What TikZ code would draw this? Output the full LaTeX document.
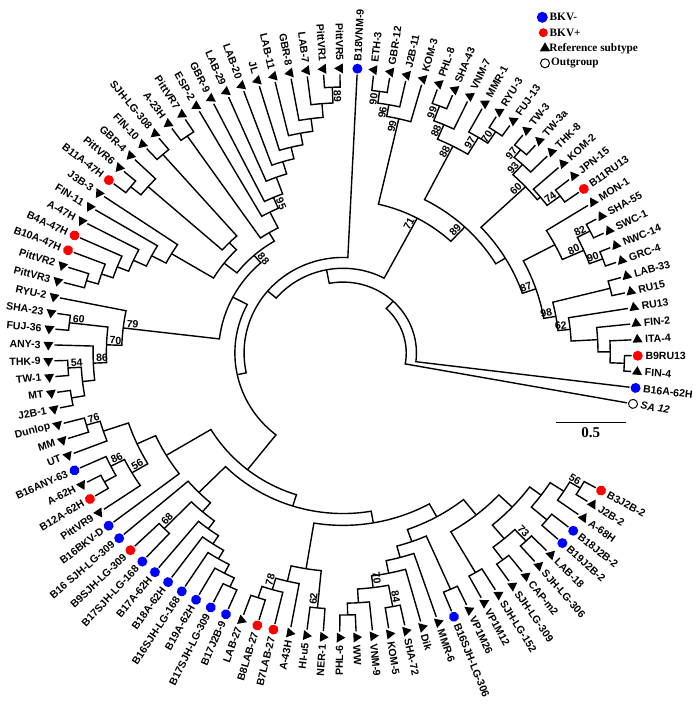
\documentclass[tikz,border=0pt]{standalone}
\usepackage{fontspec}
\setmainfont{Liberation Sans}
\newfontfamily\legfont{Liberation Serif}
\usepackage{tikz}
\usetikzlibrary{shapes.geometric,positioning}

\def\tex{1.02}\def\tey{0.985}
% side of the circle: rotation and anchors for labels
\newcommand{\tside}[1]{%
  \pgfmathsetmacro\tnorm{Mod(#1,360)}%
  \let\trot\tnorm\def\tanc{west}\def\tbanc{south east}%
  \ifdim\tnorm pt>90pt\relax\ifdim\tnorm pt<270pt\relax
    \pgfmathsetmacro\trot{\tnorm-180}\def\tanc{east}\def\tbanc{south west}%
  \fi\fi}
% leaf: name, index, label, marker
\newcommand{\tleaf}[4]{%
  \pgfmathsetmacro\tla{87.2-3.25*(#2-1)-((#2>31)?15.35:360)}%
  \expandafter\xdef\csname ta@#1\endcsname{\tla}%
  \expandafter\xdef\csname tr@#1\endcsname{283}%
  \coordinate (#1) at (\tla:\tex*283pt and \tey*283pt);
  \tside{\tla}%
  \node[#4,rotate=\tla] (#1m) at (\tla:\tex*289pt and \tey*289pt) {};
  \node[lbl,rotate=\trot,anchor=\tanc] (#1t) at (\tla:\tex*296pt and \tey*296pt) {#3};}
% inner node: name, child, child, radius
\newcommand{\tjoin}[4]{%
  \pgfmathsetmacro\tja{\csname ta@#2\endcsname}%
  \pgfmathsetmacro\tjb{\csname ta@#3\endcsname}%
  \pgfmathsetmacro\tjm{(\tja+\tjb)/2}%
  \pgfmathsetmacro\tjx{\tex*#4}\pgfmathsetmacro\tjy{\tey*#4}%
  \expandafter\xdef\csname ta@#1\endcsname{\tjm}%
  \expandafter\xdef\csname tr@#1\endcsname{#4}%
  \coordinate (#1) at (\tjm:\tjx pt and \tjy pt);
  \draw[branch] (#2) -- (\tja:\tjx pt and \tjy pt)
    arc[start angle=\tja,end angle=\tjb,x radius=\tjx pt,y radius=\tjy pt] -- (#3);}
% bootstrap value at a node
\newcommand{\tboot}[2]{%
  \pgfmathsetmacro\tba{\csname ta@#1\endcsname}%
  \pgfmathsetmacro\tbx{\tex*(\csname tr@#1\endcsname-2)}%
  \pgfmathsetmacro\tby{\tey*(\csname tr@#1\endcsname-2)}%
  \tside{\tba}%
  \node[boot,rotate=\trot,anchor=\tbanc] (#1bs) at (\tba:\tbx pt and \tby pt) {#2};}

\tikzset{
  branch/.style={line width=1.4pt},
  lbl/.style={font=\fontsize{10.5}{12}\selectfont\bfseries,inner sep=0.5pt},
  boot/.style={font=\fontsize{10.5}{12}\selectfont\bfseries,inner sep=0.8pt},
  mtri/.style={regular polygon,regular polygon sides=3,fill=black,inner sep=0pt,minimum size=11.5pt},
  mneg/.style={circle,fill=blue,inner sep=0pt,minimum size=10pt},
  mpos/.style={circle,fill=red,inner sep=0pt,minimum size=10pt},
  mout/.style={circle,draw=black,fill=white,line width=1pt,inner sep=0pt,minimum size=9pt},
  legtxt/.style={font=\legfont\bfseries\fontsize{11.3}{13}\selectfont,inner sep=0pt}}

\begin{document}
\begin{tikzpicture}[x=1pt,y=1pt]
\useasboundingbox (0,0) rectangle (697,705);
\begin{scope}[shift={(343,352)}]
\tleaf{B18VNM9}{1}{B18VNM-9}{mneg}
\tleaf{ETH3}{2}{ETH-3}{mtri}
\tleaf{GBR12}{3}{GBR-12}{mtri}
\tleaf{J2B11}{4}{J2B-11}{mtri}
\tleaf{KOM3}{5}{KOM-3}{mtri}
\tleaf{PHL8}{6}{PHL-8}{mtri}
\tleaf{SHA43}{7}{SHA-43}{mtri}
\tleaf{VNM7}{8}{VNM-7}{mtri}
\tleaf{MMR1}{9}{MMR-1}{mtri}
\tleaf{RYU3}{10}{RYU-3}{mtri}
\tleaf{FUJ13}{11}{FUJ-13}{mtri}
\tleaf{TW3}{12}{TW-3}{mtri}
\tleaf{TW3a}{13}{TW-3a}{mtri}
\tleaf{THK8}{14}{THK-8}{mtri}
\tleaf{KOM2}{15}{KOM-2}{mtri}
\tleaf{JPN15}{16}{JPN-15}{mtri}
\tleaf{B11RU13}{17}{B11RU13}{mpos}
\tleaf{MON1}{18}{MON-1}{mtri}
\tleaf{SHA55}{19}{SHA-55}{mtri}
\tleaf{SWC1}{20}{SWC-1}{mtri}
\tleaf{NWC14}{21}{NWC-14}{mtri}
\tleaf{GRC4}{22}{GRC-4}{mtri}
\tleaf{LAB33}{23}{LAB-33}{mtri}
\tleaf{RU15}{24}{RU15}{mtri}
\tleaf{RU13}{25}{RU13}{mtri}
\tleaf{FIN2}{26}{FIN-2}{mtri}
\tleaf{ITA4}{27}{ITA-4}{mtri}
\tleaf{B9RU13}{28}{B9RU13}{mpos}
\tleaf{FIN4}{29}{FIN-4}{mtri}
\tleaf{B16A62H}{30}{B16A-62H}{mneg}
\tleaf{SA12}{31}{\itshape SA 12}{mout}
\tleaf{B3J2B2}{32}{B3J2B-2}{mpos}
\tleaf{J2B2}{33}{J2B-2}{mtri}
\tleaf{A68H}{34}{A-68H}{mtri}
\tleaf{B18J2B2}{35}{B18J2B-2}{mneg}
\tleaf{B19J2B2}{36}{B19J2B-2}{mneg}
\tleaf{LAB18}{37}{LAB-18}{mtri}
\tleaf{SJHLG306}{38}{SJH-LG-306}{mtri}
\tleaf{CAPm2}{39}{CAP-m2}{mtri}
\tleaf{SJHLG309}{40}{SJH-LG-309}{mtri}
\tleaf{SJHLG152}{41}{SJH-LG-152}{mtri}
\tleaf{VP1M12}{42}{VP1M12}{mtri}
\tleaf{VP1M26}{43}{VP1M26}{mtri}
\tleaf{B16SJHLG306}{44}{B16SJH-LG-306}{mneg}
\tleaf{MMR6}{45}{MMR-6}{mtri}
\tleaf{Dik}{46}{Dik}{mtri}
\tleaf{SHA72}{47}{SHA-72}{mtri}
\tleaf{KOM5}{48}{KOM-5}{mtri}
\tleaf{VNM9}{49}{VNM-9}{mtri}
\tleaf{WW}{50}{WW}{mtri}
\tleaf{PHL6}{51}{PHL-6}{mtri}
\tleaf{NER1}{52}{NER-1}{mtri}
\tleaf{HIu5}{53}{HI-u5}{mtri}
\tleaf{A43H}{54}{A-43H}{mtri}
\tleaf{B7LAB27}{55}{B7LAB-27}{mpos}
\tleaf{B8LAB27}{56}{B8LAB-27}{mpos}
\tleaf{LAB27}{57}{LAB-27}{mtri}
\tleaf{B17J2B9}{58}{B17J2B-9}{mneg}
\tleaf{B17SJHLG309}{59}{B17SJH-LG-309}{mneg}
\tleaf{B19A62H}{60}{B19A-62H}{mneg}
\tleaf{B16SJHLG168}{61}{B16SJH-LG-168}{mneg}
\tleaf{B18A62H}{62}{B18A-62H}{mneg}
\tleaf{B17A62H}{63}{B17A-62H}{mneg}
\tleaf{B17SJHLG168}{64}{B17SJH-LG-168}{mneg}
\tleaf{B9SJHLG309}{65}{B9SJH-LG-309}{mpos}
\tleaf{B16sSJHLG309}{66}{B16 SJH-LG-309}{mneg}
\tleaf{B16BKVD}{67}{B16BKV-D}{mneg}
\tleaf{PittVR9}{68}{PittVR9}{mtri}
\tleaf{B12A62H}{69}{B12A-62H}{mpos}
\tleaf{A62H}{70}{A-62H}{mtri}
\tleaf{B16ANY63}{71}{B16ANY-63}{mneg}
\tleaf{UT}{72}{UT}{mtri}
\tleaf{MM}{73}{MM}{mtri}
\tleaf{Dunlop}{74}{Dunlop}{mtri}
\tleaf{J2B1}{75}{J2B-1}{mtri}
\tleaf{MT}{76}{MT}{mtri}
\tleaf{TW1}{77}{TW-1}{mtri}
\tleaf{THK9}{78}{THK-9}{mtri}
\tleaf{ANY3}{79}{ANY-3}{mtri}
\tleaf{FUJ36}{80}{FUJ-36}{mtri}
\tleaf{SHA23}{81}{SHA-23}{mtri}
\tleaf{RYU2}{82}{RYU-2}{mtri}
\tleaf{PittVR3}{83}{PittVR3}{mtri}
\tleaf{PittVR2}{84}{PittVR2}{mtri}
\tleaf{B10A47H}{85}{B10A-47H}{mpos}
\tleaf{B4A47H}{86}{B4A-47H}{mpos}
\tleaf{A47H}{87}{A-47H}{mtri}
\tleaf{FIN11}{88}{FIN-11}{mtri}
\tleaf{J3B3}{89}{J3B-3}{mtri}
\tleaf{B11A47H}{90}{B11A-47H}{mpos}
\tleaf{PittVR6}{91}{PittVR6}{mtri}
\tleaf{GBR4}{92}{GBR-4}{mtri}
\tleaf{FIN10}{93}{FIN-10}{mtri}
\tleaf{SJHLG308}{94}{SJH-LG-308}{mtri}
\tleaf{A23H}{95}{A-23H}{mtri}
\tleaf{PittVR7}{96}{PittVR7}{mtri}
\tleaf{ESP2}{97}{ESP-2}{mtri}
\tleaf{GBR9}{98}{GBR-9}{mtri}
\tleaf{LAB29}{99}{LAB-29}{mtri}
\tleaf{LAB20}{100}{LAB-20}{mtri}
\tleaf{JL}{101}{JL}{mtri}
\tleaf{LAB11}{102}{LAB-11}{mtri}
\tleaf{GBR8}{103}{GBR-8}{mtri}
\tleaf{LAB7}{104}{LAB-7}{mtri}
\tleaf{PittVR1}{105}{PittVR1}{mtri}
\tleaf{PittVR5}{106}{PittVR5}{mtri}
% upper right clade
\tjoin{n90}{ETH3}{GBR12}{268}
\tjoin{n96}{n90}{J2B11}{256}
\tjoin{n99a}{n96}{KOM3}{244}
\tjoin{n99b}{PHL8}{SHA43}{268}
\tjoin{n88b}{n99b}{VNM7}{252}
\tjoin{n70a}{RYU3}{FUJ13}{270}
\tjoin{n97a}{MMR1}{n70a}{256}
\tjoin{nGa}{n88b}{n97a}{236}
\tjoin{n97b}{TW3}{TW3a}{270}
\tjoin{n93}{n97b}{THK8}{260}
\tjoin{n74}{JPN15}{B11RU13}{266}
\tjoin{nKJ}{KOM2}{n74}{250}
\tjoin{nZ}{n93}{nKJ}{246}
\tjoin{n82}{SHA55}{SWC1}{272}
\tjoin{n90b}{NWC14}{GRC4}{272}
\tjoin{n80}{n82}{n90b}{258}
\tjoin{nMo}{MON1}{n80}{235}
\tjoin{n3}{B9RU13}{FIN4}{276}
\tjoin{n2}{ITA4}{n3}{262}
\tjoin{n1}{FIN2}{n2}{250}
\tjoin{n62}{RU13}{n1}{224}
\tjoin{nLR}{LAB33}{RU15}{270}
\tjoin{n98}{nLR}{n62}{212}
\tjoin{n87}{nMo}{n98}{200}
\tjoin{nY}{nZ}{n87}{186}
\tjoin{n89a}{nGa}{nY}{175}
\tjoin{n71}{n99a}{n89a}{155}
% left clade
\tjoin{n60}{SHA23}{FUJ36}{270}
\tjoin{n54}{THK9}{TW1}{270}
\tjoin{nMJ}{MT}{J2B1}{270}
\tjoin{n5M}{n54}{nMJ}{257}
\tjoin{n86a}{ANY3}{n5M}{245}
\tjoin{n70b}{n60}{n86a}{232}
\tjoin{n79}{RYU2}{n70b}{217}
% upper left clade
\tjoin{n89}{PittVR5}{PittVR1}{270}
\tjoin{l7}{n89}{LAB7}{254}
\tjoin{l8}{l7}{GBR8}{240}
\tjoin{l11}{l8}{LAB11}{227}
\tjoin{lJL}{l11}{JL}{215}
\tjoin{l20}{lJL}{LAB20}{203}
\tjoin{l29}{l20}{LAB29}{190}
\tjoin{n95}{l29}{GBR9}{172}
\tjoin{nE}{n95}{ESP2}{160}
\tjoin{nAP}{A23H}{PittVR7}{268}
\tjoin{nR}{nE}{nAP}{142}
\tjoin{nSF}{SJHLG308}{FIN10}{268}
\tjoin{nPB}{PittVR6}{B11A47H}{268}
\tjoin{nG4}{GBR4}{nPB}{255}
\tjoin{nL2}{nSF}{nG4}{158}
\tjoin{nPV}{PittVR2}{PittVR3}{262}
\tjoin{k1}{B10A47H}{nPV}{250}
\tjoin{k2}{B4A47H}{k1}{238}
\tjoin{k3}{A47H}{k2}{226}
\tjoin{k4}{FIN11}{k3}{212}
\tjoin{nL1}{J3B3}{k4}{196}
\tjoin{nL}{nL2}{nL1}{148}
\tjoin{n88}{nR}{nL}{132}
% lower clades
\tjoin{n76}{MM}{Dunlop}{262}
\tjoin{nUT}{UT}{n76}{248}
\tjoin{nAB}{A62H}{B12A62H}{268}
\tjoin{n86b}{B16ANY63}{nAB}{255}
\tjoin{n56a}{n86b}{PittVR9}{240}
\tjoin{nB1x}{nUT}{n56a}{222}
\tjoin{nB1}{B16BKVD}{nB1x}{202}
\tjoin{q1}{B17J2B9}{B17SJHLG309}{262}
\tjoin{q2}{q1}{B19A62H}{252}
\tjoin{q3}{q2}{B16SJHLG168}{242}
\tjoin{q4}{q3}{B18A62H}{232}
\tjoin{q5}{q4}{B17A62H}{222}
\tjoin{n68}{B17SJHLG168}{B9SJHLG309}{250}
\tjoin{q6}{q5}{n68}{212}
\tjoin{nB21}{B16sSJHLG309}{q6}{200}
\tjoin{m1}{LAB27}{B8LAB27}{262}
\tjoin{n78}{m1}{B7LAB27}{250}
\tjoin{m2}{n78}{A43H}{238}
\tjoin{n62b}{HIu5}{NER1}{260}
\tjoin{nB221}{m2}{n62b}{222}
\tjoin{w1}{PHL6}{WW}{266}
\tjoin{w2}{w1}{VNM9}{254}
\tjoin{n84}{KOM5}{SHA72}{262}
\tjoin{n70c}{w2}{n84}{240}
\tjoin{w3}{n70c}{Dik}{228}
\tjoin{w4}{w3}{MMR6}{215}
\tjoin{w5}{B16SJHLG306}{VP1M26}{262}
\tjoin{nWa}{w4}{w5}{203}
\tjoin{n56b}{B3J2B2}{J2B2}{270}
\tjoin{e1}{n56b}{A68H}{258}
\tjoin{e2}{B18J2B2}{B19J2B2}{262}
\tjoin{nX1}{e1}{e2}{242}
\tjoin{n73}{LAB18}{SJHLG306}{262}
\tjoin{e3}{CAPm2}{SJHLG309}{262}
\tjoin{nX2}{n73}{e3}{246}
\tjoin{nX12}{nX1}{nX2}{228}
\tjoin{nX3}{SJHLG152}{VP1M12}{258}
\tjoin{nWb}{nX12}{nX3}{210}
\tjoin{nB222}{nWa}{nWb}{190}
\tjoin{nB22}{nB221}{nB222}{175}
\tjoin{nB2}{nB21}{nB22}{163}
\tjoin{nB}{nB1}{nB2}{151}
% backbone
\tjoin{nP}{n88}{n79}{122}
\tjoin{nS}{nP}{nB}{106}
\tjoin{nN4}{B18VNM9}{nS}{97}
\tjoin{nN3}{n71}{nN4}{86}
\tjoin{nN2}{nN3}{B16A62H}{72}
\tjoin{root}{nN2}{SA12}{62}
% bootstrap values
\tboot{n89}{89}\tboot{n95}{95}\tboot{n88}{88}
\tboot{n90}{90}\tboot{n96}{96}\tboot{n99a}{99}\tboot{n99b}{99}
\tboot{n88b}{88}\tboot{nGa}{88}\tboot{n97a}{97}\tboot{n70a}{70}
\tboot{n97b}{97}\tboot{n93}{93}\tboot{nZ}{60}\tboot{n74}{74}
\tboot{n82}{82}\tboot{n80}{80}\tboot{n90b}{90}\tboot{n87}{87}
\tboot{n98}{98}\tboot{n62}{62}\tboot{n71}{71}\tboot{n89a}{89}
\tboot{n60}{60}\tboot{n54}{54}\tboot{n70b}{70}\tboot{n86a}{86}
\tboot{n79}{79}\tboot{n76}{76}\tboot{n86b}{86}\tboot{n56a}{56}
\tboot{n68}{68}\tboot{n78}{78}\tboot{n62b}{62}\tboot{n70c}{70}
\tboot{n84}{84}\tboot{n56b}{56}\tboot{n73}{73}
\end{scope}
% legend
\node[mneg,minimum size=11pt] (kneg) at (542.3,687.7) {};
\node[legtxt,right=1.5pt of kneg] (knegt) {BKV-};
\node[mpos,minimum size=9pt] (kpos) at (543.3,672.3) {};
\node[legtxt,right=1.5pt of kpos] (kpost) {BKV+};
\node[mtri,minimum size=12pt] (ktri) at (545,656.7) {};
\node[legtxt,right=0.5pt of ktri] (ktrit) {Reference subtype};
\node[mout,minimum size=9pt] (kout) at (545,641.7) {};
\node[legtxt,right=1pt of kout] (koutt) {Outgroup};
% scale bar
\coordinate (sbl) at (556,282.3);
\coordinate (sbr) at (625.7,282.3);
\draw[line width=1.3pt] (sbl) -- (sbr)
  node[midway,below=1pt,font=\legfont\bfseries\fontsize{15}{17}\selectfont] (sbt) {0.5};
\end{tikzpicture}
\end{document}
